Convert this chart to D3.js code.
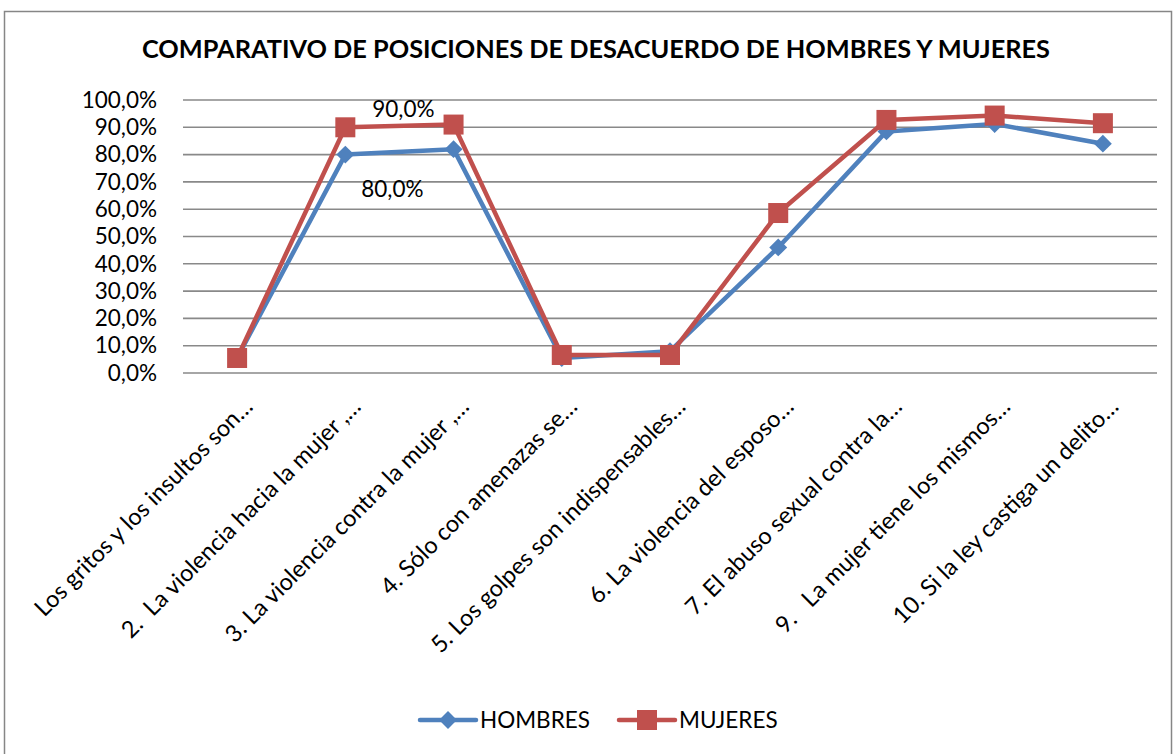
<!DOCTYPE html>
<html><head><meta charset="utf-8">
<script src="https://cdn.jsdelivr.net/npm/d3@7"></script>
<style>body{margin:0;background:#fff;} text{font-family:Lato, "Open Sans", sans-serif;fill:#000;white-space:pre;}</style>
</head><body><svg id="c" width="1175" height="754"></svg>
<script>
const categories = ["Los gritos y los insultos son…","2.  La violencia hacia la mujer ,…","3. La violencia contra la mujer ,…","4. Sólo con amenazas se…","5. Los golpes son indispensables…","6. La violencia del esposo…","7. El abuso sexual contra la…","9.   La mujer tiene los mismos…","10. Si la ley castiga un delito…"];
const hombres = [5.5, 80.0, 82.0, 5.5, 8.0, 46.0, 88.5, 91.2, 84.0];
const mujeres = [5.5, 90.0, 91.0, 6.6, 6.6, 58.6, 92.7, 94.3, 91.5];
const yTicks = [0,10,20,30,40,50,60,70,80,90,100];
const title = "COMPARATIVO DE POSICIONES DE DESACUERDO DE HOMBRES Y MUJERES";
const seriesNames = ["HOMBRES","MUJERES"];
const dataLabels = [{series:1, idx:1, text:"90,0%"},{series:0, idx:1, text:"80,0%"}];

const svg = d3.select("#c");
const colors = ["#4F81BD","#C0504D"];
const FS = 22.5;
const L=183, R=1157, T=100, B=373;
const x = d3.scaleBand().domain(d3.range(categories.length)).range([L,R]);
const y = d3.scaleLinear().domain([0,100]).range([B,T]);
const fmt = v => d3.format(".1f")(v).replace(".",",")+"%";

svg.append("rect").attr("x",4.5).attr("y",11.5).attr("width",1167).attr("height",770)
  .attr("fill","#fff").attr("stroke","#868686").attr("stroke-width",1.5);

svg.append("text").attr("x",596).attr("y",58).attr("text-anchor","middle")
  .attr("font-size",24).attr("font-weight","bold").attr("textLength",908).attr("lengthAdjust","spacingAndGlyphs").text(title);

// grid
svg.append("g").selectAll("line").data(yTicks).join("line")
  .attr("x1",L).attr("x2",R).attr("y1",d=>y(d)).attr("y2",d=>y(d))
  .attr("stroke","#898989").attr("stroke-width",1.6);

// y axis labels
const ya = svg.append("g").attr("transform",`translate(${L},0)`)
  .call(d3.axisLeft(y).tickValues(yTicks).tickSize(0).tickPadding(26).tickFormat(fmt));
ya.select(".domain").remove();
ya.selectAll("text").attr("font-size",FS).style("font-family","Lato, sans-serif").attr("fill","#000");

// x labels
const xa = svg.append("g").attr("transform",`translate(0,${B})`)
  .call(d3.axisBottom(x).tickSize(0).tickFormat(i=>categories[i]));
xa.select(".domain").remove();
xa.selectAll("text").attr("font-size",23.5).style("font-family","Lato, sans-serif").attr("fill","#000")
  .attr("text-anchor","end").attr("dy",0)
  .attr("transform","translate(17,35) rotate(-45)").attr("y",0).attr("x",0);

const cx = i => x(i)+x.bandwidth()/2;
const line = d3.line().x((d,i)=>cx(i)).y(d=>y(d));
[hombres,mujeres].forEach((s,k)=>{
  svg.append("path").datum(s).attr("d",line).attr("fill","none")
    .attr("stroke",colors[k]).attr("stroke-width",4.5).attr("stroke-linejoin","round");
});
// markers
svg.append("g").selectAll("path").data(hombres).join("path")
  .attr("d",d3.symbol(d3.symbolSquare,160)()).attr("fill",colors[0])
  .attr("transform",(d,i)=>`translate(${cx(i)},${y(d)}) rotate(45)`);
svg.append("g").selectAll("rect").data(mujeres).join("rect")
  .attr("x",(d,i)=>cx(i)-10).attr("y",d=>y(d)-10).attr("width",20).attr("height",20).attr("fill",colors[1]);

// data labels
const dlOff = [{dx:58,dy:-10},{dx:47,dy:42}];
dataLabels.forEach((l,j)=>{
  const s = l.series===0?hombres:mujeres;
  svg.append("text").attr("x",cx(l.idx)+dlOff[j].dx).attr("y",y(s[l.idx])+dlOff[j].dy)
    .attr("text-anchor","middle").attr("font-size",FS).text(l.text);
});

// legend
const lg = svg.append("g");
const legX = [420,619];
seriesNames.forEach((n,k)=>{
  const g = lg.append("g").attr("transform",`translate(${legX[k]},720)`);
  g.append("line").attr("x1",0).attr("x2",56).attr("y1",0).attr("y2",0).attr("stroke",colors[k]).attr("stroke-width",4.5).attr("stroke-linecap","round");
  if(k===0) g.append("path").attr("d",d3.symbol(d3.symbolSquare,160)()).attr("fill",colors[0]).attr("transform","translate(28,0) rotate(45)");
  else g.append("rect").attr("x",18).attr("y",-10).attr("width",20).attr("height",20).attr("fill",colors[1]);
  g.append("text").attr("x",60).attr("y",8).attr("font-size",FS).text(n);
});
</script></body></html>
